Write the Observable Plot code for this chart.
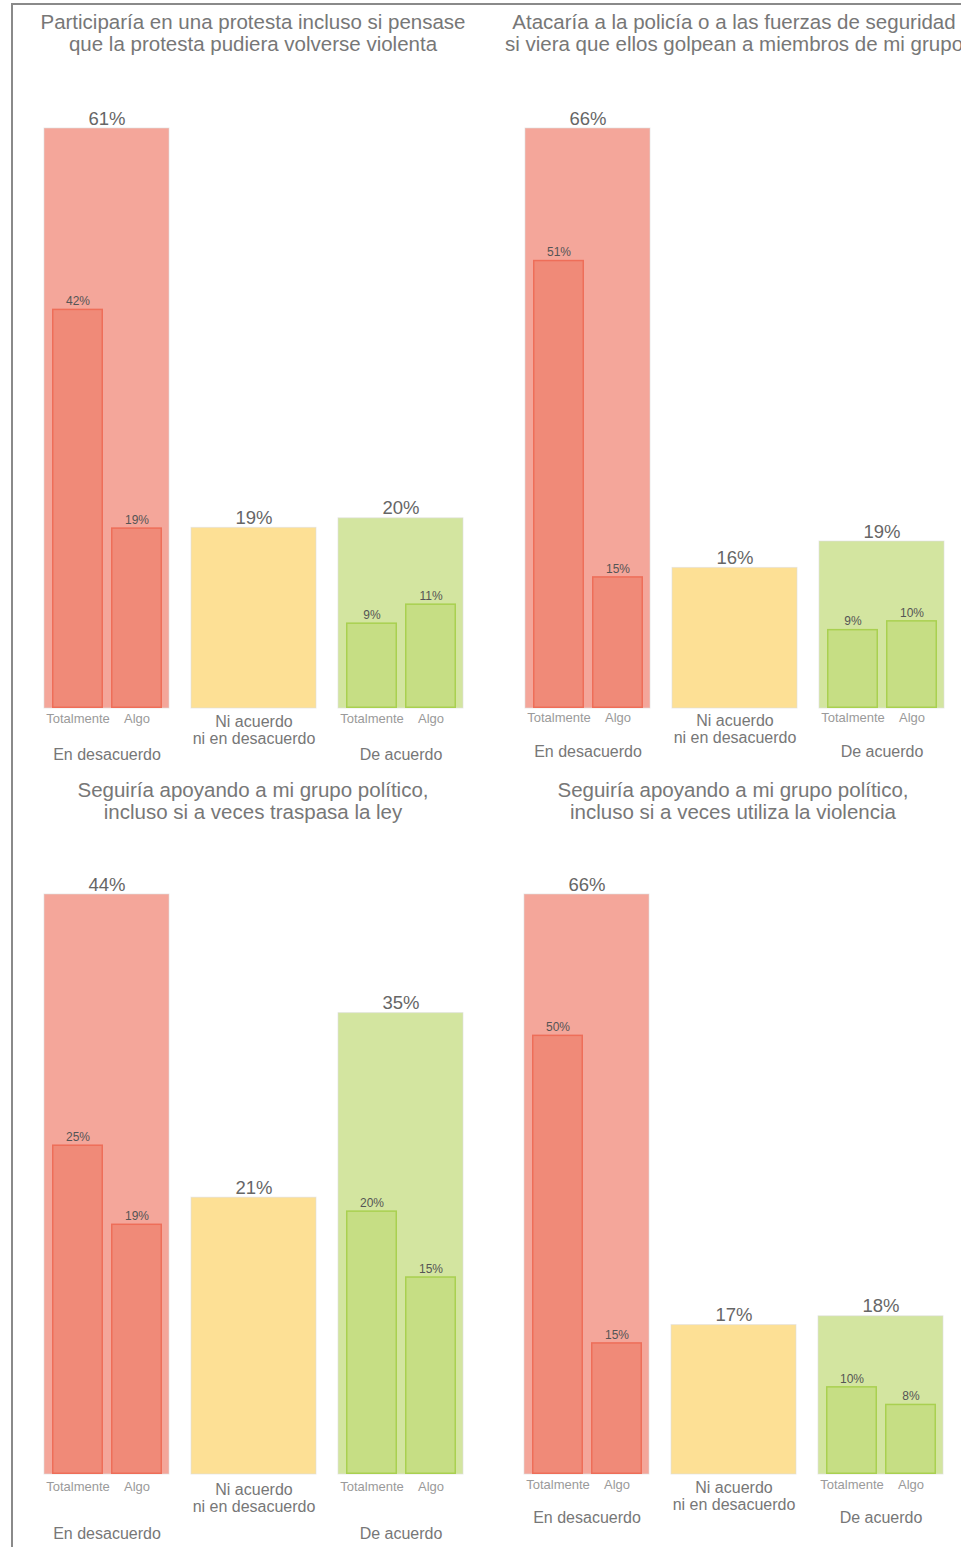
<!DOCTYPE html>
<html><head><meta charset="utf-8">
<script src="https://cdn.jsdelivr.net/npm/d3@7"></script>
<script src="https://cdn.jsdelivr.net/npm/@observablehq/plot@0.6"></script>
<style>
html,body{margin:0;padding:0;background:#fff;}
body{width:961px;height:1547px;position:relative;overflow:hidden;font-family:"Liberation Sans",Arial,sans-serif;}
.frame{position:absolute;left:11px;top:3px;width:2000px;height:2000px;border-left:2px solid #8a8a8a;border-top:2px solid #8a8a8a;}
.title{position:absolute;width:800px;text-align:center;font-size:20.5px;line-height:22px;color:#777;white-space:pre;}
.panel{position:absolute;}
.panel svg{overflow:visible;}
</style></head><body>
<div class="frame"></div>
<div id="root"></div>
<script>
// ---- data ----
const titles = [
  "Participaría en una protesta incluso si pensase\nque la protesta pudiera volverse violenta",
  "Atacaría a la policía o a las fuerzas de seguridad\nsi viera que ellos golpean a miembros de mi grupo",
  "Seguiría apoyando a mi grupo político,\nincluso si a veces traspasa la ley",
  "Seguiría apoyando a mi grupo político,\nincluso si a veces utiliza la violencia"
];
const groups = ["En desacuerdo", "Ni acuerdo\nni en desacuerdo", "De acuerdo"];
const subs = ["Totalmente", "Algo"];
const totals = [[61, 19, 20], [66, 16, 19], [44, 21, 35], [66, 17, 18]];
const disagreeSub = [[42, 19], [51, 15], [25, 19], [50, 15]];
const agreeSub = [[9, 11], [9, 10], [20, 15], [10, 8]];

// ---- layout / style ----
const panelLeft = [0, 481, 0, 480];
const frameTop = [128, 128, 894, 894];
const titleTop = [11, 11, 779, 779];
const subDy = [5, 4, 7, 5];
const midDy = [6, 5, 8, 6];
const groupDy = [40, 37, 53, 37];
const bgColors = ["#f4a69a", "#fde095", "#d3e5a0"];
const subFill = ["#f08a78", "#c6de84"];
const subStroke = ["#ee6e59", "#a9d050"];
const marginTop = 40, plotH = 580, marginBottom = 80;

const root = document.getElementById("root");

titles.forEach((title, i) => {
  const bg = groups.map((g, j) => ({group: g, value: totals[i][j], idx: j}));
  const sub = [
    ...subs.map((s, k) => ({group: groups[0], sub: s, value: disagreeSub[i][k], side: 0})),
    ...subs.map((s, k) => ({group: groups[2], sub: s, value: agreeSub[i][k], side: 1}))
  ];
  const ymax = d3.max(totals[i]);

  const t = document.createElement("div");
  t.className = "title";
  t.textContent = title;
  t.style.left = (panelLeft[i] + 253 - 400) + "px";
  t.style.top = titleTop[i] + "px";
  root.appendChild(t);

  const chart = Plot.plot({
    width: 480,
    height: marginTop + plotH + marginBottom,
    marginTop, marginBottom,
    marginLeft: 43, marginRight: 17,
    style: {fontFamily: "'Liberation Sans', Arial, sans-serif", background: "transparent", overflow: "visible"},
    fx: {domain: groups, axis: null, paddingInner: 0.15, paddingOuter: 0},
    x: {domain: subs, axis: null, paddingInner: 0.136, paddingOuter: 0.127},
    y: {domain: [0, ymax], axis: null},
    marks: [
      ...bg.map((d, j) => Plot.barY([d], {fx: "group", y: "value", fill: bgColors[j], stroke: "#ddd", strokeOpacity: 0.6, strokeWidth: 1})),
      ...[0, 1].map(s => Plot.barY(sub.filter(d => d.side === s), {
        fx: "group", x: "sub", y: "value", fill: subFill[s], stroke: subStroke[s], strokeWidth: 1.5, inset: 0.75
      })),
      Plot.text(bg, {fx: "group", y: "value", text: d => d.value + "%", lineAnchor: "bottom", dy: -4, fontSize: 18.5, fill: "#666"}),
      Plot.text(sub, {fx: "group", x: "sub", y: "value", text: d => d.value + "%", lineAnchor: "bottom", dy: -4, fontSize: 12, fill: "#555"}),
      Plot.text(sub, {fx: "group", x: "sub", text: "sub", frameAnchor: "bottom", lineAnchor: "top", dy: subDy[i], fontSize: 13, fill: "#9a9a9a"}),
      Plot.text(bg.filter(d => d.idx !== 1), {fx: "group", text: "group", frameAnchor: "bottom", lineAnchor: "top", dy: groupDy[i], fontSize: 16, fill: "#777"}),
      Plot.text(bg.filter(d => d.idx === 1), {fx: "group", text: "group", frameAnchor: "bottom", lineAnchor: "top", dy: midDy[i], fontSize: 16, lineHeight: 1.06, fill: "#777"})
    ]
  });
  const wrap = document.createElement("div");
  wrap.className = "panel";
  wrap.style.left = panelLeft[i] + "px";
  wrap.style.top = (frameTop[i] - marginTop) + "px";
  wrap.appendChild(chart);
  root.appendChild(wrap);
});
</script>
</body></html>
